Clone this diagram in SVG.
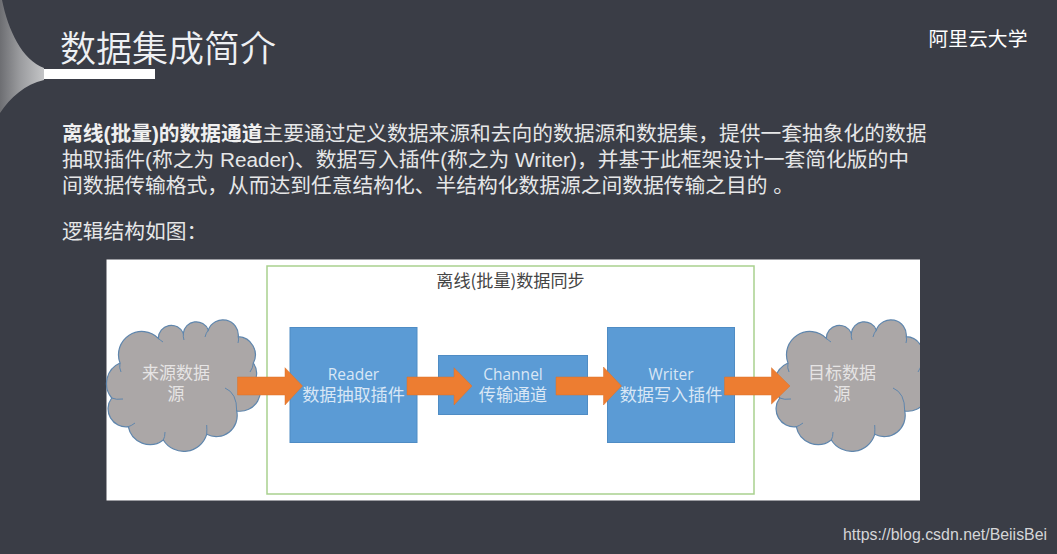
<svg xmlns="http://www.w3.org/2000/svg" width="1057" height="554" viewBox="0 0 1057 554">
<style>
text{font-family:"Noto Sans CJK SC","Noto Sans",sans-serif}
.body{fill:#e6e7e8;font-size:20.750px;font-family:"Liberation Sans","Noto Sans CJK SC",sans-serif}
.b{font-weight:700;fill:#f0f0f0}
.box{fill:#5b9bd5;stroke:#4f8cc4;stroke-width:1}
.lbl{fill:#d9e7f5;font-size:17.100px;text-anchor:middle;font-family:"Liberation Sans","Noto Sans CJK SC",sans-serif}
.lat{font-size:15.500px;font-family:"Open Sans",sans-serif}
.cl{fill:#aba7a7;stroke:#5f86ad;stroke-width:1.200}
.ci{fill:none;stroke:#5f86ad;stroke-width:1}
.cloudt{fill:#e6e4e4;font-size:17px;text-anchor:middle;font-family:"Liberation Sans","Noto Sans CJK SC",sans-serif}
.ar{fill:#ed7d31;stroke:#d9722c;stroke-width:.5}
</style>
<defs>
<linearGradient id="g" x1="0" y1="0" x2="1" y2="0"><stop offset="0" stop-color="#6d6e72"/><stop offset=".45" stop-color="#9a9b9e"/><stop offset="1" stop-color="#c4c5c7"/></linearGradient>
<clipPath id="pc"><rect x="106.500" y="259.500" width="813.500" height="241"/></clipPath>
<path id="cloud" d="M120 363A23.300 23.300 0 0 1 158.300 338.300A13 13 0 0 1 183.300 333.300A13 13 0 0 1 208.300 330A15.500 15.500 0 0 1 238.300 336.700A18 18 0 0 1 253.300 363A18 18 0 0 1 256 378A20.500 20.500 0 0 1 236.700 411A21 21 0 0 1 206.700 434.300A24 24 0 0 1 163.300 440A22 22 0 0 1 128.300 426.700A18 18 0 0 1 111.700 398A22.500 22.500 0 0 1 120 363Z"/>
<path id="cloudi" d="M120 363Q119 368 121 372M158.300 338.300Q160 340 163 342M183.300 333.300Q183 337 184 340M208.300 330Q206 333 205 337M238.300 336.700Q239 340 238 343M253.300 363Q253 368 250 372M236.700 411Q237 393 225 388M206.700 434.300Q207 430 206.700 425M163.300 440Q165 437 165 432M128.300 426.700Q131 426 135 423M111.700 398Q116 400 123 399"/>
</defs>
<rect width="1057" height="554" fill="#3a3d46"/>
<g id="decor">
<path d="M0 0H2C8 30 22 60 44 68V80C25 84 10 98 0 113Z" fill="url(#g)"/>
<rect x="44" y="69" width="111" height="10" fill="#fff"/>
</g>
<text x="60" y="62" font-size="36" font-weight="350" fill="#eef0f3">数据集成简介</text>
<text x="928.500" y="46" font-size="19.800" fill="#fff">阿里云大学</text>
<g id="intro">
<text class="body" x="62" y="141"><tspan class="b">离线(批量)的数据通道</tspan>主要通过定义数据来源和去向的数据源和数据集，提供一套抽象化的数据</text>
<text class="body" x="62" y="167">抽取插件(称之为 Reader)、数据写入插件(称之为 Writer)，并基于此框架设计一套简化版的中</text>
<text class="body" x="62" y="193">间数据传输格式，从而达到任意结构化、半结构化数据源之间数据传输之目的 。</text>
<text class="body" x="62" y="239">逻辑结构如图：</text>
</g>
<rect id="panel" x="106.500" y="259.500" width="813.500" height="241" fill="#fff"/>
<g id="sync">
<rect x="267" y="266" width="487" height="228" fill="none" stroke="#a9d18e" stroke-width="1.500"/>
<text x="510.500" y="287" font-size="17.100" fill="#444" text-anchor="middle">离线(批量)数据同步</text>
</g>
<g id="source">
<use href="#cloud" class="cl"/><use href="#cloudi" class="ci"/>
<text class="cloudt"><tspan x="176" y="379">来源数据</tspan><tspan x="176" y="399.500">源</tspan></text>
</g>
<g id="reader">
<rect class="box" x="290" y="327.500" width="127" height="115"/>
<text class="lbl"><tspan class="lat" x="353.500" y="380">Reader</tspan><tspan x="353.500" y="401">数据抽取插件</tspan></text>
</g>
<g id="channel">
<rect class="box" x="438.500" y="355.500" width="149" height="59"/>
<text class="lbl"><tspan class="lat" x="513" y="380">Channel</tspan><tspan x="513" y="401">传输通道</tspan></text>
</g>
<g id="writer">
<rect class="box" x="607.500" y="327.500" width="127" height="115"/>
<text class="lbl"><tspan class="lat" x="671" y="380">Writer</tspan><tspan x="671" y="401">数据写入插件</tspan></text>
</g>
<g id="target" clip-path="url(#pc)">
<use href="#cloud" class="cl" x="668"/><use href="#cloudi" class="ci" x="668"/>
<text class="cloudt"><tspan x="842" y="379">目标数据</tspan><tspan x="842" y="399.500">源</tspan></text>
</g>
<g id="connectors">
<path class="ar" d="M237.500 377H285V367.700L302.500 386L285 405V395H237.500Z"/>
<path class="ar" d="M407 377H454V367.700L472 386L454 405V395H407Z"/>
<path class="ar" d="M556 377H603.500V367L621.500 386L603.500 405V395H556Z"/>
<path class="ar" d="M724.500 377H771.500V367.700L790 386L771.500 404V395H724.500Z"/>
</g>
<text x="843" y="540" font-size="15.900" fill="#d5d6d8" style="font-family:'Liberation Sans',sans-serif">https://blog.csdn.net/BeiisBei</text>
</svg>
